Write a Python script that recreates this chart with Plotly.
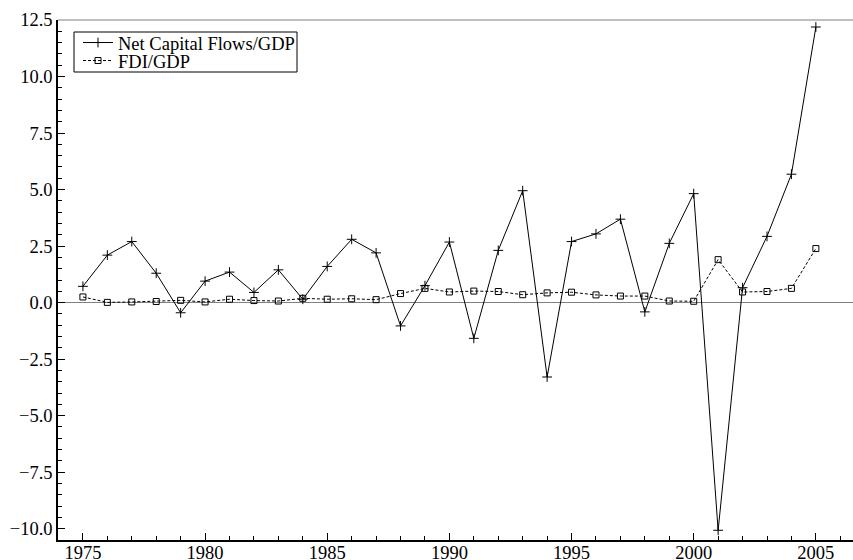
import plotly.graph_objects as go

years = list(range(1975, 2006))
net_capital_flows = [0.72, 2.10, 2.70, 1.30, -0.45, 0.95, 1.35, 0.45, 1.45, 0.15,
                     1.60, 2.80, 2.20, -1.03, 0.75, 2.68, -1.58, 2.31, 4.95, -3.29,
                     2.70, 3.04, 3.69, -0.41, 2.62, 4.82, -10.07, 0.66, 2.93, 5.68, 12.19]
fdi = [0.25, 0.01, 0.03, 0.05, 0.10, 0.03, 0.15, 0.09, 0.07, 0.19,
       0.15, 0.17, 0.13, 0.40, 0.63, 0.47, 0.51, 0.49, 0.35, 0.43,
       0.46, 0.34, 0.29, 0.29, 0.07, 0.06, 1.90, 0.47, 0.49, 0.63, 2.39]

FONT = "Liberation Serif"
FS = 18.5

# plot area in pixels
L, T, W, H = 58, 20, 795, 520


def px_x(p):
    return (p - L) / W


def px_y(p):
    return (T + H - p) / H


fig = go.Figure()
fig.add_trace(go.Scatter(
    x=years, y=net_capital_flows, name="Net Capital Flows/GDP",
    mode="lines+markers", legend="legend",
    line=dict(color="black", width=1),
    marker=dict(symbol="cross-thin-open", size=7, line=dict(color="black", width=1)),
))
fig.add_trace(go.Scatter(
    x=years, y=fdi, name="FDI/GDP",
    mode="lines+markers", legend="legend2",
    line=dict(color="black", width=1, dash="3px,2px"),
    marker=dict(symbol="square-open", size=6, color="black", line=dict(color="black", width=1)),
))

# top frame line
fig.add_shape(type="line", xref="paper", yref="paper", x0=0, x1=1, y0=1, y1=1,
              line=dict(color="#808080", width=1))
# legend frame
fig.add_shape(type="rect", xref="paper", yref="paper",
              x0=px_x(74), x1=px_x(297), y0=px_y(72), y1=px_y(32),
              line=dict(color="black", width=1), fillcolor="white", layer="below")

leg_common = dict(xanchor="left", yanchor="middle", borderwidth=0,
                  bgcolor="rgba(0,0,0,0)", font=dict(family=FONT, size=FS))

fig.update_layout(
    width=853, height=560,
    margin=dict(l=L, r=853 - L - W, t=T, b=560 - T - H, autoexpand=False),
    paper_bgcolor="white", plot_bgcolor="white",
    font=dict(family=FONT, size=FS, color="black"),
    showlegend=True,
    legend=dict(x=px_x(78), y=px_y(43), **leg_common),
    legend2=dict(x=px_x(78), y=px_y(61), **leg_common),
    xaxis=dict(range=[1973.98, 2006.52], showgrid=False, zeroline=False, automargin=False,
               showline=True, linecolor="black", linewidth=1.5,
               tickmode="array", tickvals=[1975, 1980, 1985, 1990, 1995, 2000, 2005],
               ticktext=["1975", "1980", "1985", "1990", "1995", "2000", "2005"],
               ticks="inside", ticklen=7, tickcolor="black", tickwidth=1,
               ticklabelstandoff=-5,
               minor=dict(ticks="inside", dtick=1, tick0=1975, ticklen=4,
                          tickcolor="black", showgrid=False),
               tickfont=dict(family=FONT, size=FS)),
    yaxis=dict(range=[-10.5, 12.5], showgrid=False, automargin=False,
               zeroline=True, zerolinecolor="#808080", zerolinewidth=1,
               showline=True, linecolor="black", linewidth=1.5,
               tickmode="linear", tick0=0, dtick=2.5, tickformat=".1f",
               ticks="inside", ticklen=7, tickcolor="black", tickwidth=1,
               minor=dict(ticks="inside", dtick=0.5, ticklen=4,
                          tickcolor="black", showgrid=False),
               tickfont=dict(family=FONT, size=FS)),
)

fig.write_html("out.html", config={"displayModeBar": False},
               post_script="document.body.style.margin='0';document.body.style.padding='0';"
                           "document.body.style.overflow='hidden';")
